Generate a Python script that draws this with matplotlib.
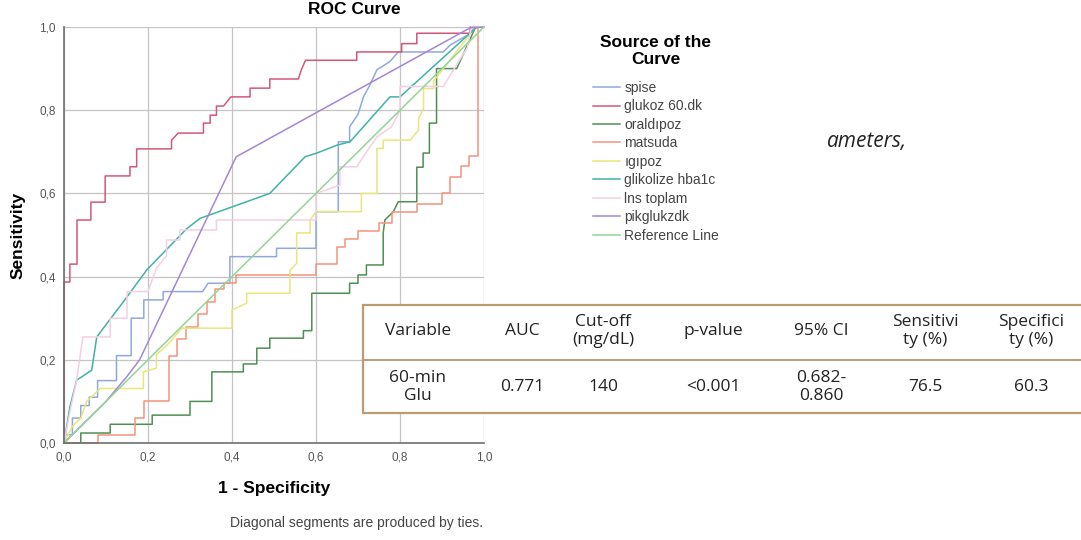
import matplotlib
matplotlib.use("Agg")
import matplotlib.pyplot as plt
from matplotlib.patches import Rectangle
from matplotlib.ticker import FuncFormatter

plt.rcParams['font.family'] = ['Liberation Sans', 'DejaVu Sans']

# ROC curves (1 - specificity, sensitivity)
spise_x = [0, 0, 0.02, 0.02, 0.04, 0.04, 0.06, 0.06, 0.08, 0.08, 0.125, 0.125, 0.16, 0.16, 0.19, 0.19,
           0.236, 0.236, 0.33, 0.343, 0.395, 0.395, 0.506, 0.506, 0.6, 0.6, 0.653, 0.653, 0.68, 0.68,
           0.70, 0.713, 0.728, 0.745, 0.776, 0.796, 0.903, 0.92, 0.96, 0.98, 1]
spise_y = [0, 0.02, 0.02, 0.06, 0.06, 0.09, 0.09, 0.11, 0.11, 0.15, 0.15, 0.21, 0.21, 0.30, 0.30, 0.344,
           0.344, 0.364, 0.364, 0.384, 0.384, 0.448, 0.448, 0.468, 0.468, 0.556, 0.556, 0.724, 0.724, 0.76,
           0.79, 0.832, 0.86, 0.897, 0.917, 0.94, 0.94, 0.957, 0.98, 1.0, 1]

glukoz_x = [0, 0, 0.014, 0.014, 0.031, 0.031, 0.064, 0.064, 0.098, 0.098, 0.157, 0.157, 0.173, 0.173,
            0.256, 0.256, 0.272, 0.332, 0.332, 0.348, 0.348, 0.363, 0.363, 0.38, 0.397, 0.443, 0.443,
            0.49, 0.49, 0.558, 0.565, 0.575, 0.697, 0.697, 0.804, 0.804, 0.84, 0.84, 0.967, 0.967, 1]
glukoz_y = [0, 0.387, 0.387, 0.43, 0.43, 0.536, 0.536, 0.579, 0.579, 0.642, 0.642, 0.664, 0.664, 0.707,
            0.707, 0.728, 0.745, 0.745, 0.769, 0.769, 0.788, 0.788, 0.81, 0.81, 0.832, 0.832, 0.853,
            0.853, 0.875, 0.875, 0.897, 0.92, 0.92, 0.94, 0.94, 0.96, 0.96, 0.985, 0.985, 1.0, 1]

oral_x = [0, 0.04, 0.04, 0.11, 0.11, 0.21, 0.21, 0.30, 0.30, 0.352, 0.352, 0.427, 0.427, 0.459, 0.459,
          0.49, 0.49, 0.57, 0.57, 0.59, 0.59, 0.68, 0.68, 0.70, 0.70, 0.72, 0.72, 0.76, 0.76, 0.764,
          0.784, 0.796, 0.84, 0.84, 0.855, 0.855, 0.87, 0.87, 0.887, 0.887, 0.935, 0.98, 1]
oral_y = [0, 0, 0.024, 0.024, 0.045, 0.045, 0.067, 0.067, 0.10, 0.10, 0.171, 0.171, 0.19, 0.19, 0.228,
          0.228, 0.252, 0.252, 0.27, 0.27, 0.36, 0.36, 0.384, 0.384, 0.404, 0.404, 0.428, 0.428, 0.505,
          0.536, 0.556, 0.58, 0.58, 0.663, 0.663, 0.697, 0.697, 0.769, 0.769, 0.90, 0.90, 1.0, 1]

matsuda_x = [0, 0.08, 0.08, 0.17, 0.17, 0.19, 0.19, 0.25, 0.25, 0.27, 0.27, 0.29, 0.29, 0.32, 0.32,
             0.34, 0.34, 0.36, 0.36, 0.38, 0.38, 0.41, 0.41, 0.60, 0.60, 0.65, 0.65, 0.67, 0.67, 0.70,
             0.70, 0.75, 0.75, 0.78, 0.78, 0.84, 0.84, 0.90, 0.90, 0.92, 0.92, 0.945, 0.945, 0.965,
             0.965, 0.985, 0.985, 0.985, 1]
matsuda_y = [0, 0, 0.02, 0.02, 0.06, 0.06, 0.10, 0.10, 0.21, 0.21, 0.25, 0.25, 0.28, 0.28, 0.31, 0.31,
             0.34, 0.34, 0.37, 0.37, 0.385, 0.385, 0.404, 0.404, 0.43, 0.43, 0.47, 0.47, 0.49, 0.49,
             0.51, 0.51, 0.53, 0.53, 0.555, 0.555, 0.575, 0.575, 0.60, 0.60, 0.64, 0.64, 0.665, 0.665,
             0.69, 0.69, 0.71, 1.0, 1]

igipoz_x = [0, 0.02, 0.04, 0.054, 0.086, 0.189, 0.189, 0.22, 0.22, 0.25, 0.28, 0.40, 0.40, 0.435, 0.435,
            0.538, 0.538, 0.554, 0.554, 0.586, 0.586, 0.60, 0.708, 0.708, 0.745, 0.745, 0.76, 0.76,
            0.824, 0.844, 0.844, 0.856, 0.856, 0.88, 0.88, 0.98, 1]
igipoz_y = [0, 0.04, 0.06, 0.10, 0.131, 0.131, 0.171, 0.18, 0.212, 0.24, 0.276, 0.276, 0.32, 0.336, 0.36,
            0.36, 0.415, 0.432, 0.505, 0.505, 0.536, 0.556, 0.556, 0.60, 0.60, 0.708, 0.708, 0.728,
            0.728, 0.752, 0.78, 0.804, 0.852, 0.852, 0.87, 1.0, 1]

hba1c_x = [0, 0.014, 0.03, 0.066, 0.078, 0.141, 0.197, 0.292, 0.324, 0.49, 0.574, 0.602, 0.65, 0.681,
           0.776, 0.80, 0.983, 1]
hba1c_y = [0, 0.087, 0.151, 0.175, 0.255, 0.339, 0.416, 0.515, 0.54, 0.60, 0.688, 0.697, 0.716, 0.724,
           0.832, 0.832, 1.0, 1]

ins_x = [0, 0.015, 0.03, 0.045, 0.11, 0.11, 0.15, 0.15, 0.20, 0.22, 0.244, 0.244, 0.276, 0.276, 0.363,
         0.363, 0.60, 0.60, 0.657, 0.657, 0.697, 0.72, 0.745, 0.78, 0.80, 0.80, 0.903, 0.96, 0.97, 1]
ins_y = [0, 0.08, 0.15, 0.255, 0.255, 0.30, 0.30, 0.364, 0.364, 0.42, 0.45, 0.488, 0.488, 0.512, 0.512,
         0.536, 0.536, 0.60, 0.62, 0.664, 0.664, 0.70, 0.736, 0.76, 0.80, 0.857, 0.857, 0.95, 1.0, 1]

pik_x = [0, 0.10, 0.15, 0.18, 0.41, 0.967, 1]
pik_y = [0, 0.10, 0.16, 0.20, 0.688, 0.998, 1]

ref_x = [0, 1]
ref_y = [0, 1]

names = ['spise', 'glukoz 60.dk', 'oraldıpoz', 'matsuda', 'ıgıpoz', 'glikolize hba1c',
         'lns toplam', 'pikglukzdk', 'Reference Line']
curves = [(spise_x, spise_y), (glukoz_x, glukoz_y), (oral_x, oral_y), (matsuda_x, matsuda_y),
          (igipoz_x, igipoz_y), (hba1c_x, hba1c_y), (ins_x, ins_y), (pik_x, pik_y), (ref_x, ref_y)]
colors = ['#8fa9dc', '#d4577a', '#4f8f52', '#f2937c', '#e9e67c', '#3fb3a6', '#f5cfe3', '#a386d6',
          '#94d494']

# table pasted over the chart
tab_cols = ['Variable', 'AUC', 'Cut-off\n(mg/dL)', 'p-value', '95% CI', 'Sensitivi\nty (%)',
            'Specifici\nty (%)']
tab_row = ['60-min\nGlu', '0.771', '140', '<0.001', '0.682-\n0.860', '76.5', '60.3']

W, H = 1081, 540
fig = plt.figure(figsize=(W / 100, H / 100), dpi=100)
ax = fig.add_axes([64 / W, 1 - 443 / H, 420 / W, 416 / H])

lines = []
for (xs, ys), name, c in zip(curves, names, colors):
    ln, = ax.plot(xs, ys, color=c, lw=1.1, label=name, clip_on=False)
    lines.append(ln)

ax.set_xlim(0, 1)
ax.set_ylim(0, 1)
ticks = [0, 0.2, 0.4, 0.6, 0.8, 1.0]
ax.set_xticks(ticks)
ax.set_yticks(ticks)
fmt = FuncFormatter(lambda v, p: f'{v:.1f}'.replace('.', ','))
ax.xaxis.set_major_formatter(fmt)
ax.yaxis.set_major_formatter(fmt)
ax.tick_params(length=0, labelsize=8.5, labelcolor='#555555', pad=6)
ax.grid(True, color='#c4c4c4', lw=0.9)
ax.set_axisbelow(True)
for s in ['top', 'right']:
    ax.spines[s].set_visible(False)
for s in ['left', 'bottom']:
    ax.spines[s].set_color('#707070')
    ax.spines[s].set_linewidth(1.2)

ax.set_xlabel('1 - Specificity', fontsize=12.5, fontweight='bold', va='center')
ax.set_ylabel('Sensitivity', fontsize=12.5, fontweight='bold', va='center')
ax.xaxis.set_label_coords(0.5, (443 - 488) / 416)
ax.yaxis.set_label_coords((18 - 64) / 420, 0.5)
fig.text(354 / W, 1 - 10 / H, 'ROC Curve', ha='center', va='center', fontsize=12.5, fontweight='bold')
fig.text(483 / W, 1 - 523 / H, 'Diagonal segments are produced by ties.', ha='right', va='center',
         fontsize=10, color='#444444')

# legend title and entries
fig.text(656 / W, 1 - 51 / H, 'Source of the\nCurve', ha='center', va='center', fontsize=12.5,
         fontweight='bold', linespacing=1.15)
leg = fig.legend(handles=lines, loc='upper left', bbox_to_anchor=(593 / W, 1 - 81 / H),
                 frameon=False, fontsize=10, handlelength=1.95, handletextpad=0.3, labelspacing=0.32,
                 borderpad=0, borderaxespad=0)
for t in leg.get_texts():
    t.set_color('#444444')

fig.text(827 / W, 1 - 141 / H, 'ameters,', fontsize=15, style='italic', family='Open Sans',
         ha='left', va='center', color='#222222')

# overlay for the table
ov = fig.add_axes([0, 0, 1, 1], zorder=10)
ov.set_xlim(0, W)
ov.set_ylim(H, 0)
ov.axis('off')
ov.patch.set_visible(False)
ov.add_patch(Rectangle((363, 305), 740, 108, facecolor='white', edgecolor='#bb9c70', lw=1.6))
ov.plot([363, 1090], [360, 360], color='#bb9c70', lw=1.4)
col_x = [418, 522, 603, 713, 821, 925, 1031]
for cx, head, val in zip(col_x, tab_cols, tab_row):
    ov.text(cx, 331, head, ha='center', va='center', fontsize=12.5, family='Open Sans',
            color='#222222', linespacing=1.1)
    ov.text(cx, 387, val, ha='center', va='center', fontsize=12.5, family='Open Sans',
            color='#222222', linespacing=1.1)

fig.savefig('out.png', dpi=100)
